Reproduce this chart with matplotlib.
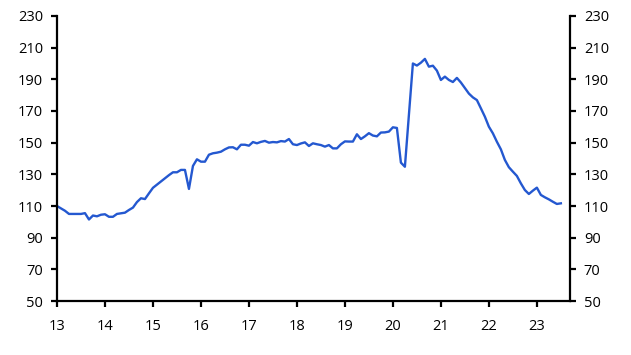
import matplotlib
matplotlib.use("Agg")
import matplotlib.pyplot as plt
import numpy as np

# monthly index values, Jan 2013 onwards
values = [
    110, 108.5, 107, 105, 105, 105, 105, 105.5, 101.5, 104, 103.5, 104.5,
    104.8, 103.2, 103.2, 105, 105.4, 105.8, 107.5, 109, 112.5, 114.9, 114.4, 118,
    121.5, 123.5, 125.5, 127.5, 129.5, 131.3, 131.3, 132.8, 132.8, 120.8, 135.3, 139.5,
    138, 138, 142.4, 143.3, 143.7, 144.3, 145.8, 147, 147.1, 145.8, 148.7, 148.7,
    148.1, 150.4, 149.6, 150.5, 151.1, 150, 150.4, 150.2, 151, 150.7, 152.3, 149,
    148.5, 149.5, 150.2, 147.9, 149.6, 149, 148.5, 147.5, 148.5, 146.4, 146.4, 149,
    150.8, 150.7, 150.7, 155.3, 152.3, 154, 156, 154.5, 154, 156.4, 156.5, 157,
    159.7, 159.3, 137.4, 134.8, 167.5, 200, 198.7, 200.5, 202.9, 198, 198.6, 195.5,
    189.6, 191.7, 189.6, 188.3, 190.9, 188, 184.5, 181, 178.6, 176.9, 171.7, 166.4,
    160.1, 155.9, 150.6, 145.8, 139.1, 134.5, 131.7, 129, 124.3, 120.1, 117.6, 119.7,
    121.6, 117, 115.5, 114.2, 112.7, 111.3, 111.7,
]
start_year = 13
yticks = [50, 70, 90, 110, 130, 150, 170, 190, 210, 230]
xticks = list(range(13, 24))

x = start_year + np.arange(len(values)) / 12

plt.rcParams["font.family"] = ["Open Sans", "DejaVu Sans"]
fig = plt.figure(figsize=(6.31, 3.55), dpi=100)
ax = fig.add_axes([0.0903, 0.152, 0.8130, 0.803])
ax.plot(x, values, color="#2458d0", lw=1.7)

ax.set_xlim(13, 23.69)
ax.set_ylim(50, 230)
ax.set_yticks(yticks)
ax.set_xticks(xticks)
ax.set_xticklabels([str(t) for t in xticks])

ax.spines["top"].set_visible(False)
for s in ["left", "right", "bottom"]:
    ax.spines[s].set_linewidth(1.6)
ax.tick_params(axis="both", direction="out", length=4, width=1.6,
               labelsize=10.5, colors="black")
ax.tick_params(axis="y", right=True, labelright=True, pad=6)
ax.tick_params(axis="x", pad=9)

fig.savefig("out.png", dpi=100)
